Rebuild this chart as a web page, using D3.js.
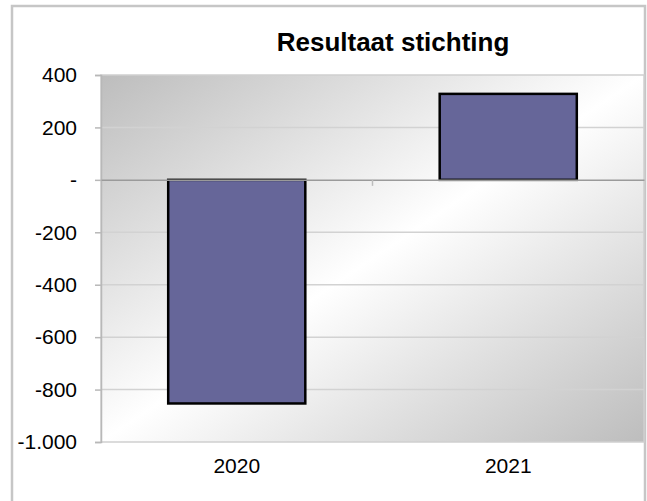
<!DOCTYPE html>
<html>
<head>
<meta charset="utf-8">
<script src="https://cdn.jsdelivr.net/npm/d3@7"></script>
<style>
  body { margin: 0; background: #fff; }
  svg { display: block; font-family: "Liberation Sans", Arial, sans-serif; }
</style>
</head>
<body>
<svg id="chart" width="647" height="501"></svg>
<script>
const years = ["2020", "2021"];
const results = [-853, 328];
const tickValues = [400, 200, 0, -200, -400, -600, -800, -1000];
const tickLabels = ["400", "200", "-", "-200", "-400", "-600", "-800", "-1.000"];

const W = 647, H = 501;
const plot = { left: 101, right: 644, top: 75, bottom: 442 };

let svg = d3.select('#chart');

// outer frame (bottom runs past the picture)
svg.append('rect')
  .attr('x', 12).attr('y', 6)
  .attr('width', 633).attr('height', H + 20)
  .attr('fill', '#fff')
  .attr('stroke', '#c6c6c6')
  .attr('stroke-width', 2.5);

let defs = svg.append('defs');
let grad = defs.append('linearGradient')
  .attr('id', 'bg')
  .attr('x1', 0).attr('y1', 0).attr('x2', 1).attr('y2', 1);
grad.append('stop').attr('offset', '0%').attr('stop-color', '#bdbdbd');
grad.append('stop').attr('offset', '50%').attr('stop-color', '#ffffff');
grad.append('stop').attr('offset', '100%').attr('stop-color', '#bdbdbd');

let x = d3.scaleBand()
  .domain(years)
  .range([plot.left, plot.right])
  .padding(0);

let y = d3.scaleLinear()
  .domain([-1000, 400])
  .range([plot.bottom, plot.top]);

// plot area
svg.append('rect')
  .attr('x', plot.left).attr('y', plot.top)
  .attr('width', plot.right - plot.left)
  .attr('height', plot.bottom - plot.top)
  .attr('fill', 'url(#bg)')
  .attr('stroke', '#cfcfcf')
  .attr('stroke-width', 1.5);

// gridlines
svg.append('g')
  .selectAll('line')
  .data(tickValues.filter(v => v !== 0 && v !== -1000 && v !== 400))
  .enter()
  .append('line')
  .attr('x1', plot.left).attr('x2', plot.right)
  .attr('y1', d => y(d)).attr('y2', d => y(d))
  .attr('stroke', '#d2d2d2')
  .attr('stroke-width', 1.5);

// value axis
let yAxis = d3.axisLeft(y)
  .tickValues(tickValues)
  .tickFormat((d, i) => tickLabels[i])
  .tickSize(6)
  .tickPadding(18);

let yg = svg.append('g')
  .attr('transform', 'translate(' + plot.left + ',0)')
  .call(yAxis);
yg.select('.domain').attr('stroke', '#b8b8b8').attr('stroke-width', 1.5);
yg.selectAll('.tick line').attr('stroke', '#b8b8b8').attr('stroke-width', 1.5);
yg.selectAll('.tick text')
  .attr('fill', '#000')
  .style('font-size', '21px')
  .style('font-family', '"Liberation Sans", Arial, sans-serif');

// bars
let barW = x.bandwidth() * 0.505;
svg.append('g')
  .selectAll('rect')
  .data(results)
  .enter()
  .append('rect')
  .attr('x', (d, i) => x(years[i]) + (x.bandwidth() - barW) / 2)
  .attr('y', d => y(Math.max(0, d)))
  .attr('width', barW)
  .attr('height', d => Math.abs(y(d) - y(0)))
  .attr('fill', '#666699')
  .attr('stroke', '#000')
  .attr('stroke-width', 2.5);

// category axis along zero
let xAxis = d3.axisBottom(x)
  .tickValues([])
  .tickSizeOuter(0);
let xg = svg.append('g')
  .attr('transform', 'translate(0,' + y(0) + ')')
  .call(xAxis);
xg.select('.domain').attr('stroke', '#9a9a9a').attr('stroke-width', 1.5);
xg.selectAll('line.sep')
  .data(years.slice(1))
  .enter()
  .append('line')
  .attr('class', 'sep')
  .attr('x1', d => x(d)).attr('x2', d => x(d))
  .attr('y1', 0).attr('y2', 6)
  .attr('stroke', '#bcbcbc')
  .attr('stroke-width', 1.5);

// category labels below plot
svg.append('g')
  .selectAll('text')
  .data(years)
  .enter()
  .append('text')
  .attr('x', d => x(d) + x.bandwidth() / 2)
  .attr('y', 473)
  .attr('text-anchor', 'middle')
  .style('font-size', '21px')
  .text(d => d);

// title
svg.append('text')
  .attr('x', 393)
  .attr('y', 51)
  .attr('text-anchor', 'middle')
  .style('font-size', '26px')
  .style('font-weight', 'bold')
  .text('Resultaat stichting');
</script>
</body>
</html>
